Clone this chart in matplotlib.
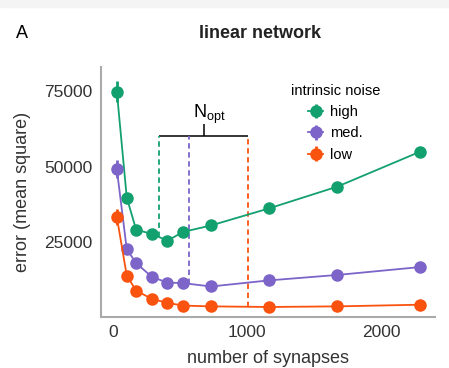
import numpy as np
import matplotlib.pyplot as plt
from matplotlib.patches import Rectangle

plt.rcParams['font.family'] = ['Liberation Sans', 'DejaVu Sans']

# numero de sinapsis
n_sinapsis = [28, 102, 172, 291, 405, 525, 731, 1162, 1674, 2291]

# error (mean square) por nivel de ruido
error_high = [74700, 39800, 29200, 27800, 25600, 28500, 30600, 36200, 43400, 54900]
error_med = [49100, 22800, 18200, 13600, 11800, 11600, 10500, 12500, 14300, 16900]
error_low = [33400, 14100, 9100, 6400, 5100, 4200, 3950, 3750, 3950, 4500]

# barras de error (solo visibles en los primeros puntos)
sd_high = [3600, 1500, 800, 600, 500, 500, 500, 500, 500, 500]
sd_med = [3000, 1200, 600, 400, 300, 300, 300, 300, 300, 300]
sd_low = [2600, 900, 400, 300, 200, 200, 200, 200, 200, 200]

# N optimo para cada nivel de ruido
n_opt = [340, 565, 1010]

etiquetas = ['high', 'med.', 'low']
colores = ['#13a06f', '#7c64c8', '#fa520f']

fig = plt.figure(figsize=(4.49, 3.68), dpi=100)
fig.patches.append(Rectangle((0, 0.982), 1, 0.018, transform=fig.transFigure,
                             color='#f4f4f4', zorder=-1))
ax = fig.add_axes([0.225, 0.139, 0.744, 0.679])

series = [(error_high, sd_high), (error_med, sd_med), (error_low, sd_low)]
for (err, sd), lab, col in zip(series, etiquetas, colores):
    ax.errorbar(n_sinapsis, err, yerr=sd, color=col, marker='o', markersize=8,
                lw=1.3, elinewidth=2, capsize=0, label=lab)

# corchete de N_opt
y_corchete = 60100
ax.hlines(y_corchete, n_opt[0], n_opt[-1], color='black', lw=1.1)
centro = (n_opt[0] + n_opt[-1]) / 2
ax.vlines(centro, y_corchete, 64000, color='black', lw=1.1)
ax.text(centro + 45, 63300, r'$\mathregular{N_{opt}}$', ha='center', va='bottom',
        fontsize=13)
for n, (err, sd), col in zip(n_opt, series, colores):
    y_curva = np.interp(n, n_sinapsis, err)
    ax.vlines(n, y_curva, y_corchete, color=col, lw=1.3, linestyles=(0, (3, 2)))

ax.set_xlim(-90, 2403)
ax.set_ylim(500, 82800)
ax.set_xticks([0, 1000, 2000])
ax.set_yticks([25000, 50000, 75000])
ax.tick_params(length=0, labelsize=12.5, colors='#333333', pad=6)
for lado in ['top', 'right']:
    ax.spines[lado].set_visible(False)
for lado in ['left', 'bottom']:
    ax.spines[lado].set_color('#aaaaaa')
    ax.spines[lado].set_linewidth(1.5)

ax.set_xlabel('number of synapses', fontsize=13, color='#333333', labelpad=7)
ax.set_ylabel('error (mean square)', fontsize=13, color='#333333', labelpad=10)

leg = ax.legend(title='intrinsic noise', loc='upper right', bbox_to_anchor=(0.875, 0.985),
                frameon=False, fontsize=10.5, title_fontsize=10.5,
                handlelength=1.0, handletextpad=0.5, labelspacing=0.5)

fig.text(0.035, 0.91, 'A', fontsize=13, va='center')
fig.text(0.58, 0.91, 'linear network', fontsize=13, fontweight='bold',
         ha='center', va='center', color='#222222')

fig.savefig('out.png', dpi=100)
